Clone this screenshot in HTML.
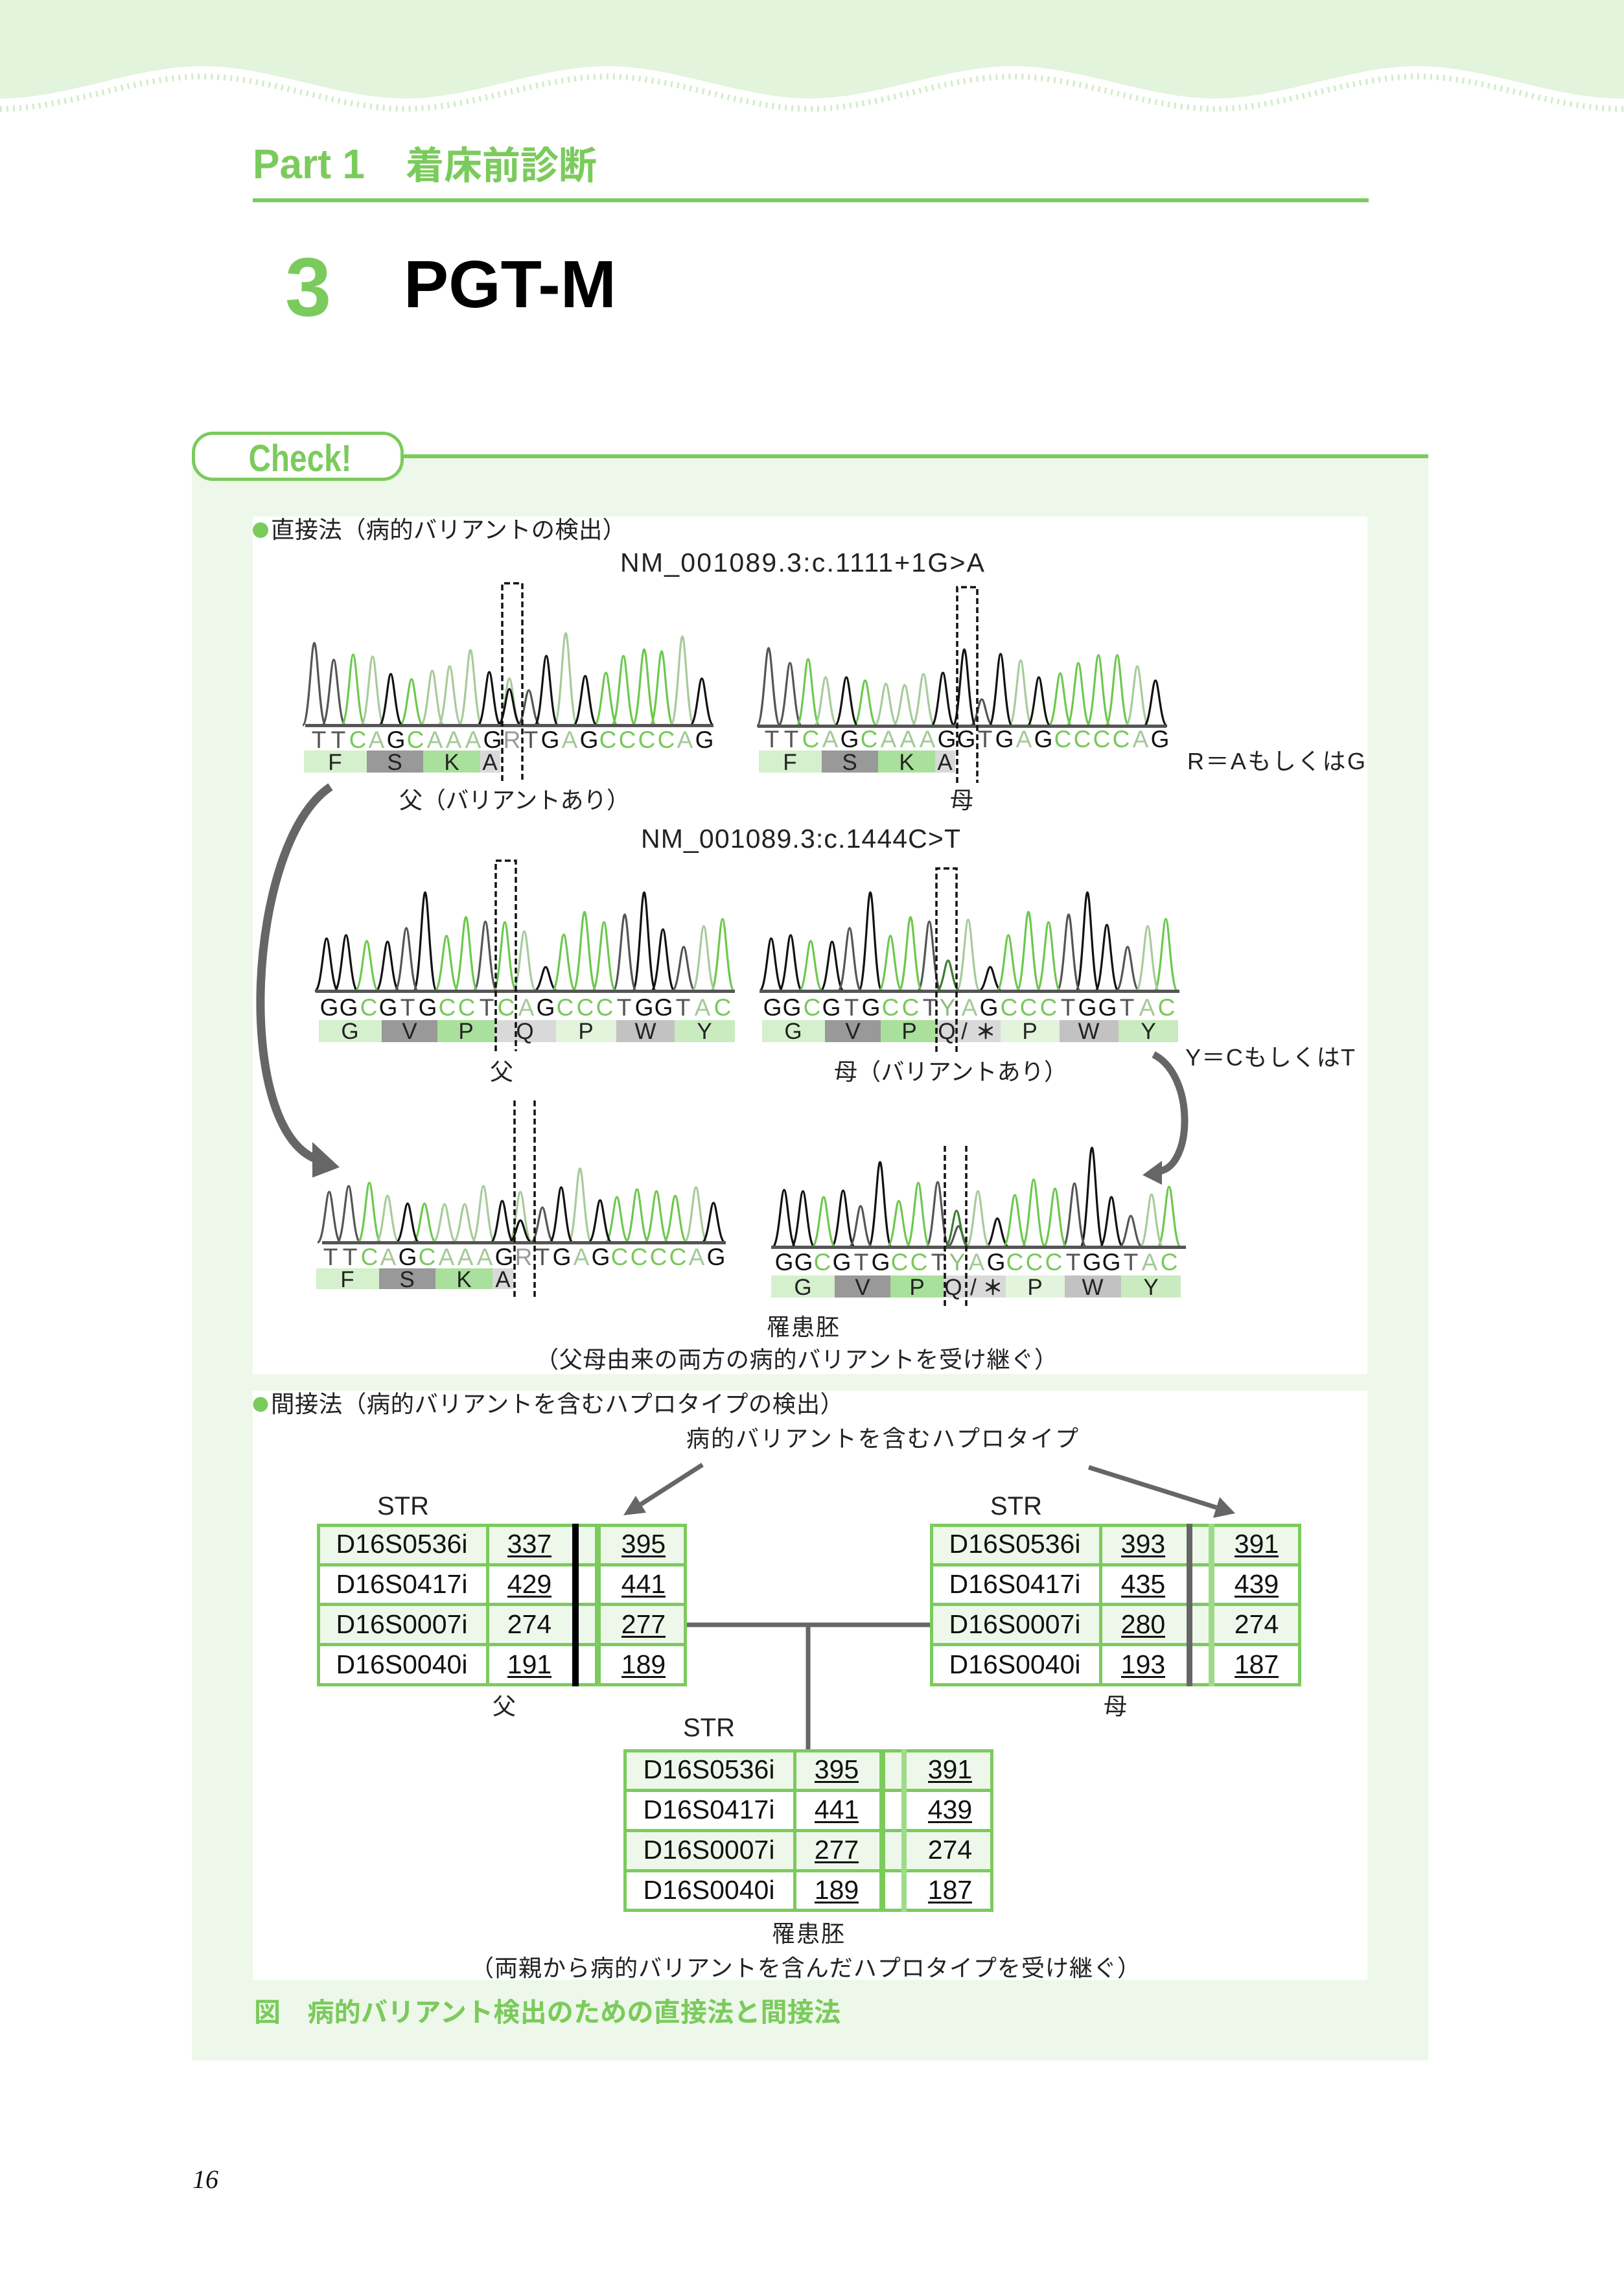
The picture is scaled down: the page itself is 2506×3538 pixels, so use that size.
<!DOCTYPE html>
<html lang="ja">
<head>
<meta charset="utf-8">
<style>
html,body{margin:0;padding:0;background:#fff;}
body{width:2506px;height:3538px;overflow:hidden;}
svg{display:block;}
.t{fill:#555}.c{fill:#78c95a}.a{fill:#a3c996}.g{fill:#111}.r{fill:#9a9a9a}.y{fill:#8cbc7c}
.seq{font-size:37px;text-anchor:middle}
.aa{font-size:35px;text-anchor:middle;fill:#222}
.lb{font-size:36px;fill:#222}
.tb{font-size:41px;text-anchor:middle;fill:#111}
.str{font-size:40px;text-anchor:middle;fill:#222}
.pk{fill:none;stroke-width:3.2;stroke-linejoin:round}
.dash{fill:none;stroke:#111;stroke-width:3.5;stroke-dasharray:9 5}
</style>
</head>
<body>
<svg width="2506" height="3538" viewBox="0 0 2506 3538" xmlns="http://www.w3.org/2000/svg" font-family="'Liberation Sans','Noto Sans CJK JP',sans-serif">
<rect width="2506" height="3538" fill="#fff"/>

<!-- header wave -->
<path d="M0 0H2506V152H2500C2396 152 2292 102 2187.5 102C2083 102 1979 152 1875 152C1771 152 1667 102 1562.5 102C1458 102 1354 152 1250 152C1146 152 1042 102 937.5 102C833 102 729 152 625 152C521 152 417 102 312.5 102C208 102 104 152 0 152Z" fill="#e2f4dc"/>
<path d="M0 168C104 168 208 118 312.5 118C417 118 521 168 625 168C729 168 833 118 937.5 118C1042 118 1146 168 1250 168C1354 168 1458 118 1562.5 118C1667 118 1771 168 1875 168C1979 168 2083 118 2187.5 118C2292 118 2396 168 2500 168H2506" fill="none" stroke="#d3ecc8" stroke-width="9" stroke-dasharray="3 7"/>

<!-- titles -->
<text x="390" y="275" font-size="64" font-weight="bold" fill="#7bcb5c" textLength="173" lengthAdjust="spacingAndGlyphs">Part 1</text>
<text x="626" y="276" font-size="59" font-weight="bold" fill="#7bcb5c">着床前診断</text>
<rect x="390" y="306" width="1722" height="6" fill="#7bcb5c"/>
<text x="440" y="487" font-size="128" font-weight="bold" fill="#7bcb5c">3</text>
<text x="623" y="474" font-size="103" font-weight="bold" fill="#000" textLength="328" lengthAdjust="spacingAndGlyphs">PGT-M</text>

<!-- check panel -->
<rect x="296" y="705" width="1908" height="2474" fill="#eef8ea"/>
<rect x="600" y="701" width="1604" height="6" fill="#7bcb5c"/>
<rect x="298.5" y="668.5" width="322" height="71" rx="30" fill="#fff" stroke="#7bcb5c" stroke-width="5"/>
<text x="463" y="727" text-anchor="middle" font-size="58" font-weight="bold" fill="#7bcb5c" textLength="159" lengthAdjust="spacingAndGlyphs">Check!</text>

<rect x="390" y="797" width="1720" height="1323" fill="#fff"/>
<rect x="390" y="2146" width="1720" height="909" fill="#fff"/>

<!-- ===== Panel 1 ===== -->
<circle cx="402" cy="818" r="12" fill="#7bcb5c"/>
<text x="418" y="830" font-size="36.4" fill="#222" textLength="548">直接法（病的バリアントの検出）</text>
<text x="957" y="882" font-size="41" fill="#222" textLength="562" lengthAdjust="spacing">NM_001089.3:c.1111+1G&gt;A</text>

<!-- father top chromatogram -->
<path class="pk" stroke="#555" d="M467 1119c10 0 13-127 18-127c5 0 8 127 18 127M497 1119c10 0 13-101 18-101c5 0 8 101 18 101M798 1119c10 0 13-54 18-54c5 0 8 54 18 54"/>
<path class="pk" stroke="#6dc84e" d="M527 1119c10 0 13-109 18-109c5 0 8 109 18 109M617 1119c10 0 13-71 18-71c5 0 8 71 18 71M917 1119c10 0 13-81 18-81c5 0 8 81 18 81M944 1119c10 0 13-107 18-107c5 0 8 107 18 107M976 1119c10 0 13-117 18-117c5 0 8 117 18 117M1003 1119c10 0 13-114 18-114c5 0 8 114 18 114"/>
<path class="pk" stroke="#a7cb9b" d="M557 1119c10 0 13-106 18-106c5 0 8 106 18 106M649 1119c10 0 13-84 18-84c5 0 8 84 18 84M676 1119c10 0 13-91 18-91c5 0 8 91 18 91M708 1119c10 0 13-116 18-116c5 0 8 116 18 116M768 1119c10 0 13-72 18-72c5 0 8 72 18 72M855 1119c10 0 13-142 18-142c5 0 8 142 18 142M1035 1119c10 0 13-137 18-137c5 0 8 137 18 137"/>
<path class="pk" stroke="#111" d="M585 1119c10 0 13-79 18-79c5 0 8 79 18 79M737 1119c10 0 13-82 18-82c5 0 8 82 18 82M768 1119c10 0 13-56 18-56c5 0 8 56 18 56M825 1119c10 0 13-107 18-107c5 0 8 107 18 107M885 1119c10 0 13-76 18-76c5 0 8 76 18 76M1065 1119c10 0 13-72 18-72c5 0 8 72 18 72"/>
<rect x="471" y="1117" width="630" height="5" fill="#555"/>
<text class="seq" y="1154"><tspan x="492" class="t">T</tspan><tspan x="522" class="t">T</tspan><tspan x="552" class="c">C</tspan><tspan x="581" class="a">A</tspan><tspan x="611" class="g">G</tspan><tspan x="641" class="c">C</tspan><tspan x="671" class="a">A</tspan><tspan x="700" class="a">A</tspan><tspan x="730" class="a">A</tspan><tspan x="760" class="g">G</tspan><tspan x="790" class="r">R</tspan><tspan x="819" class="t">T</tspan><tspan x="849" class="g">G</tspan><tspan x="879" class="a">A</tspan><tspan x="909" class="g">G</tspan><tspan x="938" class="c">C</tspan><tspan x="968" class="c">C</tspan><tspan x="998" class="c">C</tspan><tspan x="1028" class="c">C</tspan><tspan x="1057" class="a">A</tspan><tspan x="1087" class="g">G</tspan></text>
<rect x="469" y="1158" width="97" height="34" fill="#d4f0cc"/><rect x="566" y="1158" width="87" height="34" fill="#999"/><rect x="653" y="1158" width="88" height="34" fill="#a9e09b"/><rect x="741" y="1158" width="31" height="34" fill="#d9d9d9"/>
<text class="aa" y="1188"><tspan x="517">F</tspan><tspan x="609">S</tspan><tspan x="697">K</tspan><tspan x="756">A</tspan></text>
<path class="dash" d="M775 1205V900H806V1205"/>
<text x="616" y="1247" class="lb" font-size="35.5" textLength="356">父（バリアントあり）</text>

<!-- mother top chromatogram -->
<path class="pk" stroke="#555" d="M1168 1120c10 0 13-120 18-120c5 0 8 120 18 120M1201 1120c10 0 13-97 18-97c5 0 8 97 18 97M1497 1120c10 0 13-41 18-41c5 0 8 41 18 41"/>
<path class="pk" stroke="#6dc84e" d="M1229 1120c10 0 13-103 18-103c5 0 8 103 18 103M1317 1120c10 0 13-70 18-70c5 0 8 70 18 70M1618 1120c10 0 13-81 18-81c5 0 8 81 18 81M1646 1120c10 0 13-97 18-97c5 0 8 97 18 97M1677 1120c10 0 13-109 18-109c5 0 8 109 18 109M1706 1120c10 0 13-109 18-109c5 0 8 109 18 109"/>
<path class="pk" stroke="#a7cb9b" d="M1256 1120c10 0 13-75 18-75c5 0 8 75 18 75M1349 1120c10 0 13-65 18-65c5 0 8 65 18 65M1378 1120c10 0 13-63 18-63c5 0 8 63 18 63M1407 1120c10 0 13-80 18-80c5 0 8 80 18 80M1557 1120c10 0 13-101 18-101c5 0 8 101 18 101M1737 1120c10 0 13-92 18-92c5 0 8 92 18 92"/>
<path class="pk" stroke="#111" d="M1288 1120c10 0 13-75 18-75c5 0 8 75 18 75M1437 1120c10 0 13-82 18-82c5 0 8 82 18 82M1470 1120c10 0 13-118 18-118c5 0 8 118 18 118M1526 1120c10 0 13-111 18-111c5 0 8 111 18 111M1585 1120c10 0 13-75 18-75c5 0 8 75 18 75M1765 1120c10 0 13-70 18-70c5 0 8 70 18 70"/>
<rect x="1169" y="1118" width="631" height="5" fill="#555"/>
<text class="seq" y="1153"><tspan x="1191" class="t">T</tspan><tspan x="1221" class="t">T</tspan><tspan x="1251" class="c">C</tspan><tspan x="1281" class="a">A</tspan><tspan x="1311" class="g">G</tspan><tspan x="1341" class="c">C</tspan><tspan x="1371" class="a">A</tspan><tspan x="1401" class="a">A</tspan><tspan x="1431" class="a">A</tspan><tspan x="1461" class="g">G</tspan><tspan x="1491" class="g">G</tspan><tspan x="1520" class="t">T</tspan><tspan x="1550" class="g">G</tspan><tspan x="1580" class="a">A</tspan><tspan x="1610" class="g">G</tspan><tspan x="1640" class="c">C</tspan><tspan x="1670" class="c">C</tspan><tspan x="1700" class="c">C</tspan><tspan x="1730" class="c">C</tspan><tspan x="1760" class="a">A</tspan><tspan x="1790" class="g">G</tspan></text>
<rect x="1171" y="1158" width="97" height="34" fill="#d4f0cc"/><rect x="1268" y="1158" width="87" height="34" fill="#999"/><rect x="1355" y="1158" width="88" height="34" fill="#a9e09b"/><rect x="1443" y="1158" width="31" height="34" fill="#d9d9d9"/>
<text class="aa" y="1188"><tspan x="1219">F</tspan><tspan x="1311">S</tspan><tspan x="1399">K</tspan><tspan x="1458">A</tspan></text>
<path class="dash" d="M1477 1208V906H1508V1208"/>
<text x="1466" y="1247" class="lb">母</text>
<text x="1832" y="1187" class="lb" textLength="275" lengthAdjust="spacing">R＝AもしくはG</text>

<text x="989" y="1308" font-size="41" fill="#222" textLength="493" lengthAdjust="spacing">NM_001089.3:c.1444C&gt;T</text>

<!-- father row2 -->
<path class="pk" stroke="#111" d="M486 1529c10 0 13-81 18-81c5 0 8 81 18 81M516 1529c10 0 13-86 18-86c5 0 8 86 18 86M580 1529c10 0 13-76 18-76c5 0 8 76 18 76M638 1529c10 0 13-152 18-152c5 0 8 152 18 152M824 1529c10 0 13-37 18-37c5 0 8 37 18 37M976 1529c10 0 13-152 18-152c5 0 8 152 18 152M1005 1529c10 0 13-95 18-95c5 0 8 95 18 95"/>
<path class="pk" stroke="#555" d="M609 1529c10 0 13-97 18-97c5 0 8 97 18 97M731 1529c10 0 13-107 18-107c5 0 8 107 18 107M946 1529c10 0 13-118 18-118c5 0 8 118 18 118M1037 1529c10 0 13-68 18-68c5 0 8 68 18 68"/>
<path class="pk" stroke="#6dc84e" d="M548 1529c10 0 13-77 18-77c5 0 8 77 18 77M671 1529c10 0 13-85 18-85c5 0 8 85 18 85M701 1529c10 0 13-114 18-114c5 0 8 114 18 114M761 1529c10 0 13-106 18-106c5 0 8 106 18 106M852 1529c10 0 13-87 18-87c5 0 8 87 18 87M884 1529c10 0 13-122 18-122c5 0 8 122 18 122M914 1529c10 0 13-106 18-106c5 0 8 106 18 106M1097 1529c10 0 13-111 18-111c5 0 8 111 18 111"/>
<path class="pk" stroke="#a7cb9b" d="M791 1529c10 0 13-92 18-92c5 0 8 92 18 92M1068 1529c10 0 13-100 18-100c5 0 8 100 18 100"/>
<rect x="487" y="1527" width="647" height="5" fill="#555"/>
<text class="seq" y="1567"><tspan x="508" class="g">G</tspan><tspan x="538" class="g">G</tspan><tspan x="569" class="c">C</tspan><tspan x="599" class="g">G</tspan><tspan x="629" class="t">T</tspan><tspan x="660" class="g">G</tspan><tspan x="690" class="c">C</tspan><tspan x="720" class="c">C</tspan><tspan x="751" class="t">T</tspan><tspan x="781" class="c">C</tspan><tspan x="812" class="a">A</tspan><tspan x="842" class="g">G</tspan><tspan x="872" class="c">C</tspan><tspan x="903" class="c">C</tspan><tspan x="933" class="c">C</tspan><tspan x="963" class="t">T</tspan><tspan x="994" class="g">G</tspan><tspan x="1024" class="g">G</tspan><tspan x="1054" class="t">T</tspan><tspan x="1084" class="a">A</tspan><tspan x="1115" class="c">C</tspan></text>
<rect x="492" y="1574" width="97" height="34" fill="#d4f0cc"/><rect x="589" y="1574" width="86" height="34" fill="#999"/><rect x="675" y="1574" width="88" height="34" fill="#a9e09b"/><rect x="763" y="1574" width="95" height="34" fill="#d9d9d9"/><rect x="858" y="1574" width="93" height="34" fill="#e2f4dc"/><rect x="951" y="1574" width="90" height="34" fill="#c2c2c2"/><rect x="1041" y="1574" width="93" height="34" fill="#c9ebbf"/>
<text class="aa" y="1603"><tspan x="540">G</tspan><tspan x="632">V</tspan><tspan x="719">P</tspan><tspan x="810">Q</tspan><tspan x="904">P</tspan><tspan x="996">W</tspan><tspan x="1087">Y</tspan></text>
<path class="dash" d="M765 1622V1328H796V1622"/>
<text x="756" y="1666" class="lb">父</text>

<!-- mother row2 -->
<path class="pk" stroke="#111" d="M1172 1529c10 0 13-81 18-81c5 0 8 81 18 81M1202 1529c10 0 13-86 18-86c5 0 8 86 18 86M1266 1529c10 0 13-76 18-76c5 0 8 76 18 76M1325 1529c10 0 13-152 18-152c5 0 8 152 18 152M1510 1529c10 0 13-37 18-37c5 0 8 37 18 37M1660 1529c10 0 13-152 18-152c5 0 8 152 18 152M1690 1529c10 0 13-102 18-102c5 0 8 102 18 102"/>
<path class="pk" stroke="#555" d="M1293 1529c10 0 13-97 18-97c5 0 8 97 18 97M1416 1529c10 0 13-107 18-107c5 0 8 107 18 107M1631 1529c10 0 13-118 18-118c5 0 8 118 18 118M1722 1529c10 0 13-68 18-68c5 0 8 68 18 68"/>
<path class="pk" stroke="#6dc84e" d="M1233 1529c10 0 13-77 18-77c5 0 8 77 18 77M1356 1529c10 0 13-85 18-85c5 0 8 85 18 85M1387 1529c10 0 13-114 18-114c5 0 8 114 18 114M1538 1529c10 0 13-86 18-86c5 0 8 86 18 86M1569 1529c10 0 13-122 18-122c5 0 8 122 18 122M1600 1529c10 0 13-106 18-106c5 0 8 106 18 106M1781 1529c10 0 13-111 18-111c5 0 8 111 18 111"/>
<path class="pk" stroke="#a7cb9b" d="M1476 1529c10 0 13-110 18-110c5 0 8 110 18 110M1753 1529c10 0 13-100 18-100c5 0 8 100 18 100"/>
<path class="pk" stroke="#3f7d30" d="M1445 1529c10 0 13-47 18-47c5 0 8 47 18 47"/>
<rect x="1172" y="1527" width="648" height="5" fill="#555"/>
<text class="seq" y="1567"><tspan x="1192" class="g">G</tspan><tspan x="1222" class="g">G</tspan><tspan x="1253" class="c">C</tspan><tspan x="1283" class="g">G</tspan><tspan x="1314" class="t">T</tspan><tspan x="1344" class="g">G</tspan><tspan x="1374" class="c">C</tspan><tspan x="1405" class="c">C</tspan><tspan x="1435" class="t">T</tspan><tspan x="1462" class="y">Y</tspan><tspan x="1496" class="a">A</tspan><tspan x="1526" class="g">G</tspan><tspan x="1557" class="c">C</tspan><tspan x="1587" class="c">C</tspan><tspan x="1618" class="c">C</tspan><tspan x="1648" class="t">T</tspan><tspan x="1678" class="g">G</tspan><tspan x="1709" class="g">G</tspan><tspan x="1739" class="t">T</tspan><tspan x="1770" class="a">A</tspan><tspan x="1800" class="c">C</tspan></text>
<rect x="1176" y="1574" width="97" height="34" fill="#d4f0cc"/><rect x="1273" y="1574" width="86" height="34" fill="#999"/><rect x="1359" y="1574" width="88" height="34" fill="#a9e09b"/><rect x="1447" y="1574" width="97" height="34" fill="#d9d9d9"/><rect x="1544" y="1574" width="91" height="34" fill="#e2f4dc"/><rect x="1635" y="1574" width="91" height="34" fill="#c2c2c2"/><rect x="1726" y="1574" width="92" height="34" fill="#c9ebbf"/>
<text class="aa" y="1603"><tspan x="1224">G</tspan><tspan x="1316">V</tspan><tspan x="1403">P</tspan><tspan x="1461">Q</tspan><tspan x="1488">/</tspan><tspan x="1521" font-weight="bold" font-size="32">＊</tspan><tspan x="1589">P</tspan><tspan x="1680">W</tspan><tspan x="1772">Y</tspan></text>
<path class="dash" d="M1445 1623V1340H1476V1623"/>
<text x="1287" y="1666" class="lb" font-size="35.7" textLength="360">母（バリアントあり）</text>
<text x="1829" y="1644" class="lb" textLength="262" lengthAdjust="spacing">Y＝CもしくはT</text>

<!-- arcs -->
<path d="M510 1214C380 1300 360 1745 490 1789" stroke="#666" stroke-width="13" fill="none"/>
<polygon points="482,1762 524,1801 482,1817" fill="#666"/>
<path d="M1780 1627C1845 1660 1840 1800 1789 1807" stroke="#666" stroke-width="11" fill="none"/>
<polygon points="1763,1813 1793,1791 1793,1828" fill="#666"/>

<!-- embryo 1 -->
<path class="pk" stroke="#555" d="M490 1917c10 0 13-78 18-78c5 0 8 78 18 78M520 1917c10 0 13-87 18-87c5 0 8 87 18 87M819 1917c10 0 13-54 18-54c5 0 8 54 18 54"/>
<path class="pk" stroke="#6dc84e" d="M552 1917c10 0 13-92 18-92c5 0 8 92 18 92M637 1917c10 0 13-60 18-60c5 0 8 60 18 60M934 1917c10 0 13-70 18-70c5 0 8 70 18 70M965 1917c10 0 13-82 18-82c5 0 8 82 18 82M995 1917c10 0 13-79 18-79c5 0 8 79 18 79M1024 1917c10 0 13-72 18-72c5 0 8 72 18 72"/>
<path class="pk" stroke="#a7cb9b" d="M580 1917c10 0 13-72 18-72c5 0 8 72 18 72M668 1917c10 0 13-59 18-59c5 0 8 59 18 59M699 1917c10 0 13-59 18-59c5 0 8 59 18 59M728 1917c10 0 13-87 18-87c5 0 8 87 18 87M785 1917c10 0 13-78 18-78c5 0 8 78 18 78M877 1917c10 0 13-114 18-114c5 0 8 114 18 114M1056 1917c10 0 13-85 18-85c5 0 8 85 18 85"/>
<path class="pk" stroke="#111" d="M611 1917c10 0 13-60 18-60c5 0 8 60 18 60M757 1917c10 0 13-64 18-64c5 0 8 64 18 64M785 1917c10 0 13-34 18-34c5 0 8 34 18 34M848 1917c10 0 13-85 18-85c5 0 8 85 18 85M908 1917c10 0 13-65 18-65c5 0 8 65 18 65M1083 1917c10 0 13-61 18-61c5 0 8 61 18 61"/>
<rect x="497" y="1915" width="623" height="5" fill="#555"/>
<text class="seq" y="1952"><tspan x="510" class="t">T</tspan><tspan x="540" class="t">T</tspan><tspan x="570" class="c">C</tspan><tspan x="599" class="a">A</tspan><tspan x="629" class="g">G</tspan><tspan x="659" class="c">C</tspan><tspan x="689" class="a">A</tspan><tspan x="718" class="a">A</tspan><tspan x="748" class="a">A</tspan><tspan x="778" class="g">G</tspan><tspan x="808" class="r">R</tspan><tspan x="837" class="t">T</tspan><tspan x="867" class="g">G</tspan><tspan x="897" class="a">A</tspan><tspan x="927" class="g">G</tspan><tspan x="956" class="c">C</tspan><tspan x="986" class="c">C</tspan><tspan x="1016" class="c">C</tspan><tspan x="1046" class="c">C</tspan><tspan x="1075" class="a">A</tspan><tspan x="1105" class="g">G</tspan></text>
<rect x="488" y="1957" width="97" height="32" fill="#d4f0cc"/><rect x="585" y="1957" width="87" height="32" fill="#999"/><rect x="672" y="1957" width="88" height="32" fill="#a9e09b"/><rect x="760" y="1957" width="32" height="32" fill="#d9d9d9"/>
<text class="aa" y="1986"><tspan x="536">F</tspan><tspan x="628">S</tspan><tspan x="716">K</tspan><tspan x="776">A</tspan></text>
<path class="dash" d="M794 1698V2002M825 1698V2002"/>

<!-- embryo 2 -->
<path class="pk" stroke="#111" d="M1192 1924c10 0 13-88 18-88c5 0 8 88 18 88M1221 1924c10 0 13-86 18-86c5 0 8 86 18 86M1283 1924c10 0 13-87 18-87c5 0 8 87 18 87M1340 1924c10 0 13-131 18-131c5 0 8 131 18 131M1521 1924c10 0 13-44 18-44c5 0 8 44 18 44M1667 1924c10 0 13-153 18-153c5 0 8 153 18 153M1697 1924c10 0 13-77 18-77c5 0 8 77 18 77"/>
<path class="pk" stroke="#555" d="M1310 1924c10 0 13-63 18-63c5 0 8 63 18 63M1429 1924c10 0 13-100 18-100c5 0 8 100 18 100M1461 1924c10 0 13-32 18-32c5 0 8 32 18 32M1640 1924c10 0 13-98 18-98c5 0 8 98 18 98M1727 1924c10 0 13-48 18-48c5 0 8 48 18 48"/>
<path class="pk" stroke="#6dc84e" d="M1253 1924c10 0 13-77 18-77c5 0 8 77 18 77M1369 1924c10 0 13-71 18-71c5 0 8 71 18 71M1399 1924c10 0 13-99 18-99c5 0 8 99 18 99M1548 1924c10 0 13-80 18-80c5 0 8 80 18 80M1577 1924c10 0 13-104 18-104c5 0 8 104 18 104M1610 1924c10 0 13-90 18-90c5 0 8 90 18 90M1786 1924c10 0 13-93 18-93c5 0 8 93 18 93"/>
<path class="pk" stroke="#a7cb9b" d="M1491 1924c10 0 13-86 18-86c5 0 8 86 18 86M1759 1924c10 0 13-81 18-81c5 0 8 81 18 81"/>
<path class="pk" stroke="#3f7d30" d="M1458 1924c10 0 13-56 18-56c5 0 8 56 18 56"/>
<rect x="1190" y="1922" width="640" height="5" fill="#555"/>
<text class="seq" y="1960"><tspan x="1210" class="g">G</tspan><tspan x="1240" class="g">G</tspan><tspan x="1269" class="c">C</tspan><tspan x="1299" class="g">G</tspan><tspan x="1329" class="t">T</tspan><tspan x="1359" class="g">G</tspan><tspan x="1388" class="c">C</tspan><tspan x="1418" class="c">C</tspan><tspan x="1448" class="t">T</tspan><tspan x="1477" class="y">Y</tspan><tspan x="1507" class="a">A</tspan><tspan x="1537" class="g">G</tspan><tspan x="1566" class="c">C</tspan><tspan x="1596" class="c">C</tspan><tspan x="1626" class="c">C</tspan><tspan x="1656" class="t">T</tspan><tspan x="1685" class="g">G</tspan><tspan x="1715" class="g">G</tspan><tspan x="1745" class="t">T</tspan><tspan x="1774" class="a">A</tspan><tspan x="1804" class="c">C</tspan></text>
<rect x="1190" y="1968" width="98" height="34" fill="#d4f0cc"/><rect x="1288" y="1968" width="86" height="34" fill="#999"/><rect x="1374" y="1968" width="82" height="34" fill="#a9e09b"/><rect x="1456" y="1968" width="96" height="34" fill="#d9d9d9"/><rect x="1552" y="1968" width="91" height="34" fill="#e2f4dc"/><rect x="1643" y="1968" width="87" height="34" fill="#c2c2c2"/><rect x="1730" y="1968" width="92" height="34" fill="#c9ebbf"/>
<text class="aa" y="1998"><tspan x="1239">G</tspan><tspan x="1331">V</tspan><tspan x="1415">P</tspan><tspan x="1471">Q</tspan><tspan x="1502">/</tspan><tspan x="1532" font-weight="bold" font-size="32">＊</tspan><tspan x="1597">P</tspan><tspan x="1686">W</tspan><tspan x="1776">Y</tspan></text>
<path class="dash" d="M1458 1768V2018M1491 1768V2018"/>

<text x="1183" y="2060" class="lb" font-size="37.3" textLength="112">罹患胚</text>
<text x="826" y="2110" class="lb" textLength="806">（父母由来の両方の病的バリアントを受け継ぐ）</text>

<!-- ===== Panel 2 ===== -->
<circle cx="402" cy="2167" r="11.5" fill="#7bcb5c"/>
<text x="418" y="2179" font-size="36.4" fill="#222" textLength="884">間接法（病的バリアントを含むハプロタイプの検出）</text>
<text x="1059" y="2232" class="lb" font-size="37.8" textLength="605">病的バリアントを含むハプロタイプ</text>

<!-- arrows -->
<path d="M1084 2260L989 2321" stroke="#666" stroke-width="7" fill="none"/>
<polygon points="962,2338 997,2334 981,2308" fill="#666"/>
<path d="M1680 2264L1877 2326" stroke="#666" stroke-width="7" fill="none"/>
<polygon points="1906,2335 1872,2342 1882,2310" fill="#666"/>

<text x="622" y="2337" class="str">STR</text>
<text x="1568" y="2337" class="str">STR</text>
<text x="1094" y="2679" class="str">STR</text>

<!-- father table -->
<rect x="489" y="2351" width="571" height="63" fill="#eef8ea"/>
<rect x="489" y="2475" width="571" height="62" fill="#eef8ea"/>
<g fill="#7bcb5c">
<rect x="489" y="2351" width="571" height="5"/><rect x="489" y="2412" width="571" height="5"/><rect x="489" y="2473" width="571" height="5"/><rect x="489" y="2535" width="571" height="5"/><rect x="489" y="2597" width="571" height="5"/>
<rect x="489" y="2351" width="5" height="251"/><rect x="750" y="2351" width="5" height="251"/><rect x="918" y="2351" width="9" height="251"/><rect x="1055" y="2351" width="5" height="251"/>
</g>
<rect x="883" y="2351" width="10" height="251" fill="#000"/>
<g class="tb">
<text x="620" y="2396">D16S0536i</text><text x="620" y="2458">D16S0417i</text><text x="620" y="2520">D16S0007i</text><text x="620" y="2582">D16S0040i</text>
<text x="817" y="2396">337</text><text x="817" y="2458">429</text><text x="817" y="2520">274</text><text x="817" y="2582">191</text>
<text x="993" y="2396">395</text><text x="993" y="2458">441</text><text x="993" y="2520">277</text><text x="993" y="2582">189</text>
</g>
<g fill="#111">
<rect x="783" y="2400" width="68" height="3"/><rect x="783" y="2462" width="68" height="3"/><rect x="783" y="2586" width="68" height="3"/>
<rect x="959" y="2400" width="68" height="3"/><rect x="959" y="2462" width="68" height="3"/><rect x="959" y="2524" width="68" height="3"/><rect x="959" y="2586" width="68" height="3"/>
</g>
<text x="760" y="2645" class="lb">父</text>

<!-- mother table -->
<rect x="1435" y="2351" width="573" height="63" fill="#eef8ea"/>
<rect x="1435" y="2475" width="573" height="62" fill="#eef8ea"/>
<g fill="#7bcb5c">
<rect x="1435" y="2351" width="573" height="5"/><rect x="1435" y="2412" width="573" height="5"/><rect x="1435" y="2473" width="573" height="5"/><rect x="1435" y="2535" width="573" height="5"/><rect x="1435" y="2597" width="573" height="5"/>
<rect x="1435" y="2351" width="5" height="251"/><rect x="1696" y="2351" width="5" height="251"/><rect x="2003" y="2351" width="5" height="251"/>
</g>
<rect x="1831" y="2351" width="9" height="251" fill="#666"/>
<rect x="1865" y="2351" width="9" height="251" fill="#9edb88"/>
<g class="tb">
<text x="1566" y="2396">D16S0536i</text><text x="1566" y="2458">D16S0417i</text><text x="1566" y="2520">D16S0007i</text><text x="1566" y="2582">D16S0040i</text>
<text x="1764" y="2396">393</text><text x="1764" y="2458">435</text><text x="1764" y="2520">280</text><text x="1764" y="2582">193</text>
<text x="1939" y="2396">391</text><text x="1939" y="2458">439</text><text x="1939" y="2520">274</text><text x="1939" y="2582">187</text>
</g>
<g fill="#111">
<rect x="1730" y="2400" width="68" height="3"/><rect x="1730" y="2462" width="68" height="3"/><rect x="1730" y="2524" width="68" height="3"/><rect x="1730" y="2586" width="68" height="3"/>
<rect x="1905" y="2400" width="68" height="3"/><rect x="1905" y="2462" width="68" height="3"/><rect x="1905" y="2586" width="68" height="3"/>
</g>
<text x="1703" y="2645" class="lb">母</text>

<!-- connectors -->
<path d="M1060 2507H1435M1247 2507V2699" stroke="#666" stroke-width="7" fill="none"/>

<!-- embryo table -->
<rect x="962" y="2699" width="571" height="63" fill="#eef8ea"/>
<rect x="962" y="2824" width="571" height="62" fill="#eef8ea"/>
<g fill="#7bcb5c">
<rect x="962" y="2699" width="571" height="5"/><rect x="962" y="2760" width="571" height="5"/><rect x="962" y="2822" width="571" height="5"/><rect x="962" y="2884" width="571" height="5"/><rect x="962" y="2945" width="571" height="5"/>
<rect x="962" y="2699" width="5" height="251"/><rect x="1224" y="2699" width="5" height="251"/><rect x="1357" y="2699" width="9" height="251"/><rect x="1528" y="2699" width="5" height="251"/>
</g>
<rect x="1391" y="2699" width="8" height="251" fill="#9edb88"/>
<g class="tb">
<text x="1094" y="2744">D16S0536i</text><text x="1094" y="2806">D16S0417i</text><text x="1094" y="2868">D16S0007i</text><text x="1094" y="2930">D16S0040i</text>
<text x="1291" y="2744">395</text><text x="1291" y="2806">441</text><text x="1291" y="2868">277</text><text x="1291" y="2930">189</text>
<text x="1466" y="2744">391</text><text x="1466" y="2806">439</text><text x="1466" y="2868">274</text><text x="1466" y="2930">187</text>
</g>
<g fill="#111">
<rect x="1257" y="2748" width="68" height="3"/><rect x="1257" y="2810" width="68" height="3"/><rect x="1257" y="2872" width="68" height="3"/><rect x="1257" y="2934" width="68" height="3"/>
<rect x="1432" y="2748" width="68" height="3"/><rect x="1432" y="2810" width="68" height="3"/><rect x="1432" y="2934" width="68" height="3"/>
</g>

<text x="1191" y="2996" class="lb" font-size="37.3" textLength="112">罹患胚</text>
<text x="726" y="3049" class="lb" font-size="36.2" textLength="1034">（両親から病的バリアントを含んだハプロタイプを受け継ぐ）</text>

<!-- caption -->
<text x="392" y="3119" font-size="41" font-weight="bold" fill="#7bcb5c" textLength="905">図　病的バリアント検出のための直接法と間接法</text>

<!-- page number -->
<text x="297" y="3376" font-family="'Liberation Serif',serif" font-style="italic" font-size="40" fill="#111">16</text>
</svg>
</body>
</html>
